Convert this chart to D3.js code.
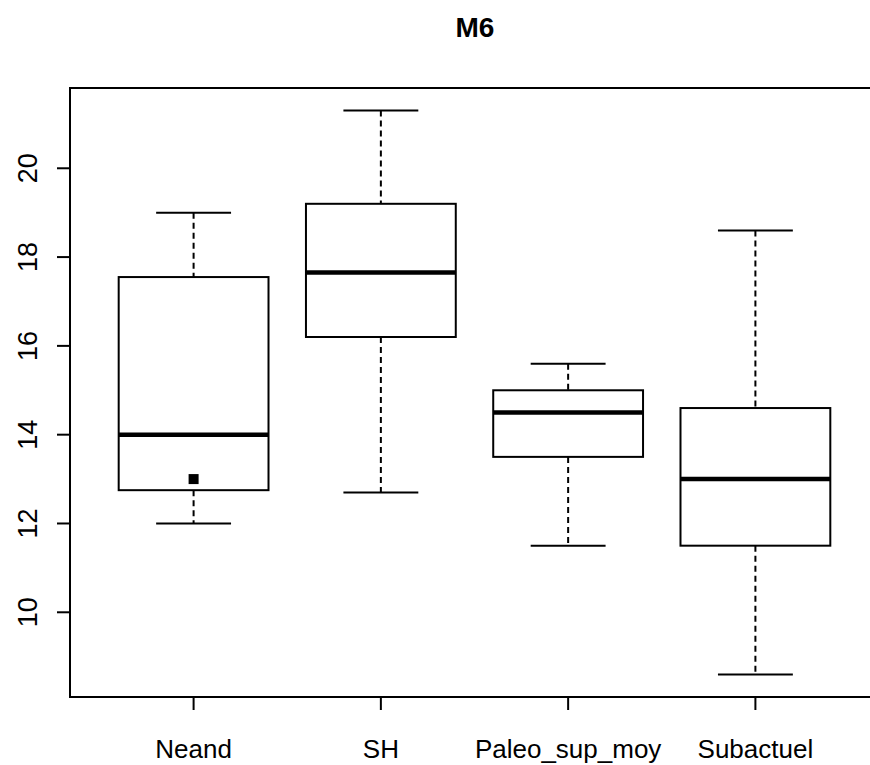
<!DOCTYPE html>
<html><head><meta charset="utf-8">
<script src="https://cdn.jsdelivr.net/npm/d3@7"></script>
<style>html,body{margin:0;background:#fff;overflow:hidden;} svg{display:block;overflow:hidden;}</style>
</head><body>
<svg id="c" width="870" height="765"></svg>
<script>
const title = "M6";
const categories = ["Neand", "SH", "Paleo_sup_moy", "Subactuel"];
const whiskerLow = [12.0, 12.7, 11.5, 8.6];
const q1 = [12.75, 16.2, 13.5, 11.5];
const median = [14.0, 17.65, 14.5, 13.0];
const q3 = [17.55, 19.2, 15.0, 14.6];
const whiskerHigh = [19.0, 21.3, 15.6, 18.6];
const extraPoints = [{cat: "Neand", value: 13.0}];
const yTicks = [10, 12, 14, 16, 18, 20];

(function () {
const svg = d3.select("#c");
const font = "'Liberation Sans', Arial, Helvetica, sans-serif";
const pLeft = 70, pRight = 879, pTop = 88, pBottom = 697, W = 870;

const dmin = d3.min(whiskerLow), dmax = d3.max(whiskerHigh);
const pad = (dmax - dmin) * 0.04;
const y = d3.scaleLinear().domain([dmin - pad, dmax + pad]).range([pBottom, pTop]);
const xi = d3.scaleLinear().domain([0.34, categories.length + 0.66]).range([pLeft, pRight]);
const xc = c => xi(categories.indexOf(c) + 1);
const boxHalf = xi(0.4) - xi(0), capHalf = xi(0.2) - xi(0);

const data = categories.map((c, i) => ({c, lo: whiskerLow[i], q1: q1[i], med: median[i], q3: q3[i], hi: whiskerHigh[i]}));

const g = svg.append("g");
g.selectAll(".wu").data(data).join("line")
  .attr("x1", d => xc(d.c)).attr("x2", d => xc(d.c))
  .attr("y1", d => y(d.hi)).attr("y2", d => y(d.q3))
  .attr("stroke", "#000").attr("stroke-width", 2).attr("stroke-dasharray", "6,4");
g.selectAll(".wd").data(data).join("line")
  .attr("x1", d => xc(d.c)).attr("x2", d => xc(d.c))
  .attr("y1", d => y(d.q1)).attr("y2", d => y(d.lo))
  .attr("stroke", "#000").attr("stroke-width", 2).attr("stroke-dasharray", "6,4");
["hi", "lo"].forEach(k => {
  g.append("g").selectAll("line").data(data).join("line")
    .attr("x1", d => xc(d.c) - capHalf).attr("x2", d => xc(d.c) + capHalf)
    .attr("y1", d => y(d[k])).attr("y2", d => y(d[k]))
    .attr("stroke", "#000").attr("stroke-width", 2);
});
g.append("g").selectAll("rect").data(data).join("rect")
  .attr("x", d => xc(d.c) - boxHalf).attr("width", 2 * boxHalf)
  .attr("y", d => y(d.q3)).attr("height", d => y(d.q1) - y(d.q3))
  .attr("fill", "#fff").attr("stroke", "#000").attr("stroke-width", 2);
g.append("g").selectAll("line").data(data).join("line")
  .attr("x1", d => xc(d.c) - boxHalf).attr("x2", d => xc(d.c) + boxHalf)
  .attr("y1", d => y(d.med)).attr("y2", d => y(d.med))
  .attr("stroke", "#000").attr("stroke-width", 4.5);
g.append("g").selectAll("rect").data(extraPoints).join("rect")
  .attr("x", d => xc(d.cat) - 5).attr("y", d => y(d.value) - 5)
  .attr("width", 10).attr("height", 10).attr("fill", "#000");

// frame (right side lies outside the visible area)
svg.append("path")
  .attr("d", `M${W + 5},${pTop}H${pLeft}V${pBottom}H${W + 5}`)
  .attr("fill", "none").attr("stroke", "#000").attr("stroke-width", 2);

const ya = svg.append("g");
ya.selectAll("line").data(yTicks).join("line")
  .attr("x1", pLeft - 13).attr("x2", pLeft).attr("y1", d => y(d)).attr("y2", d => y(d))
  .attr("stroke", "#000").attr("stroke-width", 2);
ya.selectAll("text").data(yTicks).join("text")
  .attr("transform", d => `translate(37,${y(d)}) rotate(-90)`)
  .attr("text-anchor", "middle").attr("font-family", font).attr("font-size", 27)
  .text(d => d);

const xa = svg.append("g");
xa.selectAll("line").data(categories).join("line")
  .attr("x1", d => xc(d)).attr("x2", d => xc(d)).attr("y1", pBottom).attr("y2", pBottom + 13)
  .attr("stroke", "#000").attr("stroke-width", 2);
xa.selectAll("text").data(categories).join("text")
  .attr("x", d => xc(d)).attr("y", 758)
  .attr("text-anchor", "middle").attr("font-family", font).attr("font-size", 26)
  .text(d => d);

svg.append("text").attr("x", 475).attr("y", 37).attr("text-anchor", "middle")
  .attr("font-family", font).attr("font-size", 28).attr("font-weight", "bold").text(title);
})();
</script>
</body></html>
